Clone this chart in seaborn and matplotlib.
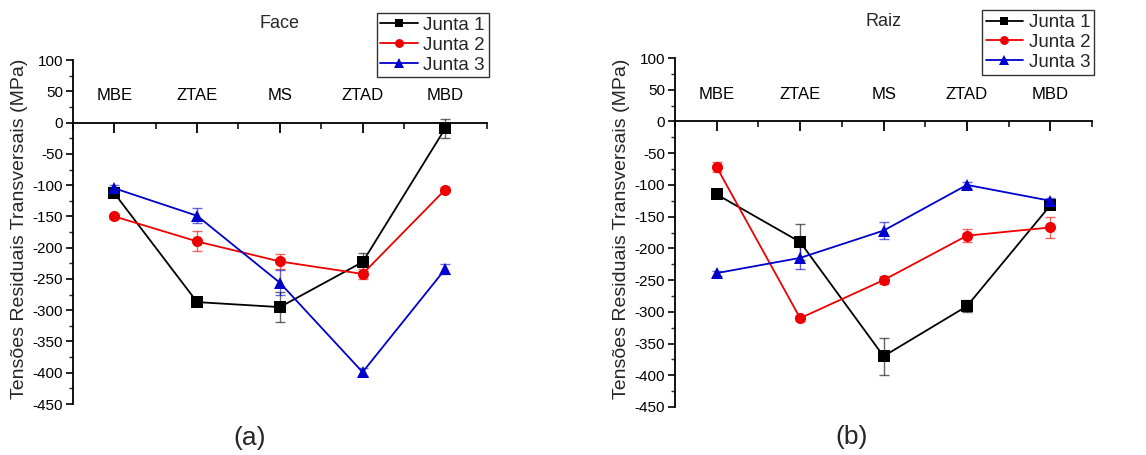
import numpy as np
import pandas as pd
import seaborn as sns
import matplotlib.pyplot as plt
from matplotlib.ticker import MultipleLocator

# ----------------------------
# Data
# ----------------------------
zones = ["MBE", "ZTAE", "MS", "ZTAD", "MBD"]
series_names = ["Junta 1", "Junta 2", "Junta 3"]

face_j1 = [-113, -287, -295, -223, -9]
face_j2 = [-150, -190, -222, -242, -107]
face_j3 = [-105, -149, -256, -399, -234]
face_j1_err = [6, 4, 24, 14, 15]
face_j2_err = [4, 16, 12, 8, 4]
face_j3_err = [6, 12, 20, 6, 8]

raiz_j1 = [-115, -190, -370, -291, -132]
raiz_j2 = [-72, -310, -250, -180, -167]
raiz_j3 = [-239, -215, -172, -100, -125]
raiz_j1_err = [5, 28, 29, 10, 5]
raiz_j2_err = [8, 4, 6, 10, 17]
raiz_j3_err = [4, 18, 13, 5, 5]

colors = ["#000000", "#EE0000", "#0000CC"]
markers = ["s", "o", "^"]

# ----------------------------
# Style
# ----------------------------
sns.set_theme(style="ticks")
plt.rcParams["font.family"] = ["Liberation Sans", "DejaVu Sans"]
plt.rcParams["axes.unicode_minus"] = False


def draw_panel(ax, values, errors, title):
    for name, vals, errs, col, mk in zip(series_names, values, errors, colors, markers):
        ax.errorbar(zones, vals, yerr=errs, fmt="none", ecolor=col, alpha=0.6,
                    elinewidth=1.0, capsize=3.5, capthick=1.0, zorder=2)
        sns.lineplot(x=zones, y=vals, sort=False, color=col, marker=mk,
                     markersize=9 if mk == "^" else 8, markeredgewidth=0,
                     linewidth=1.3, label=name, ax=ax, zorder=3)

    # axes: x axis sits at y = 0 with labels above it
    ax.set_xlim(-0.5, 4.5)
    ax.set_ylim(-450, 100)
    ax.spines["top"].set_position(("data", 0))
    ax.spines["right"].set_visible(False)
    ax.spines["bottom"].set_visible(False)
    for s in ["top", "left"]:
        ax.spines[s].set_linewidth(1.3)
        ax.spines[s].set_color("black")
    ax.xaxis.set_ticks_position("top")
    ax.set_xticks(range(len(zones)))
    ax.set_xticklabels(zones)
    ax.set_xticks([-0.5, 0.5, 1.5, 2.5, 3.5, 4.5], minor=True)
    ax.tick_params(axis="x", which="major", direction="in", length=7, width=1.3,
                   pad=14, labelsize=12, colors="black")
    ax.tick_params(axis="x", which="minor", direction="in", length=4.5, width=1.3)

    ax.set_yticks(np.arange(-450, 101, 50))
    ax.yaxis.set_minor_locator(MultipleLocator(25))
    ax.tick_params(axis="y", which="major", direction="out", length=5, width=1.2,
                   labelsize=11, colors="black", pad=2)
    ax.tick_params(axis="y", which="minor", direction="out", length=3, width=1.0)

    ax.set_xlabel("")
    ax.set_ylabel("Tensões Residuais Transversais (MPa)", fontsize=14)
    ax.yaxis.set_label_coords(-0.108, 0.51)
    ax.text(0.5, 1.105, title, transform=ax.transAxes, ha="center", va="center",
            fontsize=13)

    leg = ax.legend(loc="upper right", bbox_to_anchor=(1.005, 1.137), borderaxespad=0,
                    frameon=True, fancybox=False, fontsize=13.5, handlelength=2.0,
                    handletextpad=0.3, labelspacing=0.15, borderpad=0.2,
                    markerscale=0.8)
    leg.get_frame().set_edgecolor("black")
    leg.get_frame().set_linewidth(1.0)


fig = plt.figure(figsize=(11.46, 4.55), dpi=100)
ax_a = fig.add_axes([0.0637, 0.112, 0.361, 0.756])
ax_b = fig.add_axes([0.589, 0.1055, 0.364, 0.767])

draw_panel(ax_a, [face_j1, face_j2, face_j3], [face_j1_err, face_j2_err, face_j3_err], "Face")
draw_panel(ax_b, [raiz_j1, raiz_j2, raiz_j3], [raiz_j1_err, raiz_j2_err, raiz_j3_err], "Raiz")

fig.text(250 / 1146, 1 - 438 / 455, "(a)", ha="center", va="center", fontsize=19)
fig.text(852 / 1146, 1 - 437 / 455, "(b)", ha="center", va="center", fontsize=19)

fig.savefig("out.png", dpi=100)
plt.close(fig)
